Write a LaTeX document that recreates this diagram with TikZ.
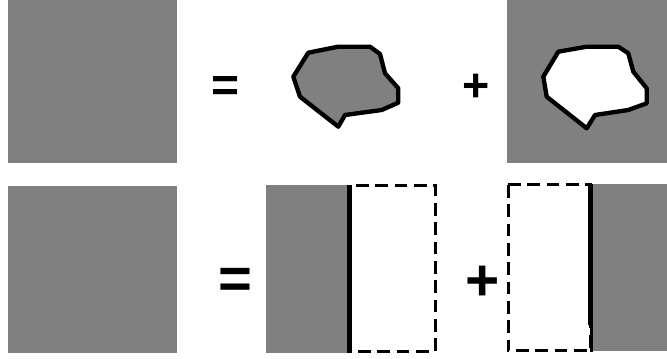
\documentclass[tikz,border=0pt]{standalone}
\usepackage{fontspec}
\setmainfont{Liberation Sans}
\definecolor{panelgrey}{RGB}{128,128,128}
\begin{document}
\begin{tikzpicture}[x=0.75pt,y=-0.75pt]
\tikzset{
  panel/.style={fill=panelgrey},
  hole/.style={draw=black, line width=3.25pt, line join=round},
  cutedge/.style={draw=black, line width=2.25pt, dash pattern=on 9.5pt off 5pt},
  seam/.style={draw=black, line width=3.75pt},
  sign/.style={inner sep=0pt, font=\bfseries\fontsize{#1}{#1}\selectfont}
}
\useasboundingbox (0,0) rectangle (667,359);

% ---- top row: whole field = region + complement ----
\fill[panel] (8,0) rectangle (177,163);
\node[sign=36pt] (eqA) at (226,89.5) {=};
\filldraw[hole, fill=panelgrey]
  (308.3,52.7) -- (338.3,46.7) -- (370,46.7) -- (380,54) -- (385,73.3)
  -- (398.3,88.3) -- (398.3,102.7) -- (381.7,110) -- (345,115)
  -- (338.3,126.7) -- (300,96.7) -- (293.3,76.7) -- cycle;
\node[sign=35pt] (plusA) at (476,88.3) {+};
\fill[panel] (507,0) rectangle (667,163);
\filldraw[hole, fill=white]
  (558.3,51.7) -- (586.7,46.7) -- (618.3,46.7) -- (628.3,53.3) -- (633.3,71.7)
  -- (646.7,88.3) -- (646.7,103.3) -- (628.3,110) -- (595,115)
  -- (586.7,128.3) -- (546.7,96.7) -- (543.3,76.7) -- cycle;

% ---- bottom row: whole field = left half + right half ----
\fill[panel] (8,186) rectangle (177,353);
\node[sign=43.5pt] (eqB) at (235.5,283) {=};
\fill[panel] (266,185) rectangle (349,353);
\draw[cutedge] (350,185.5) rectangle (435,351.5);
\draw[seam] (349.5,185) -- (349.5,353);
\node[sign=44pt] (plusB) at (482.5,283) {+};
\draw[cutedge] (508,185) rectangle (590,351);
\fill[panel] (593,184) rectangle (667,351);
\draw[seam] (590.5,184) -- (590.5,325);
\draw[draw=black, line width=2.25pt] (591.5,325) -- (591.5,352);
\end{tikzpicture}
\end{document}
